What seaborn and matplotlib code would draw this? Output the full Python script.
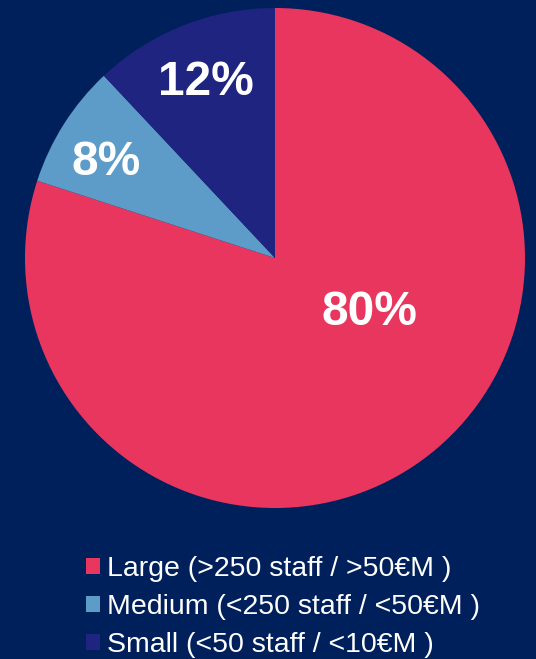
import matplotlib
matplotlib.use("Agg")
import matplotlib.pyplot as plt
import seaborn as sns

categories = ["Large (>250 staff / >50€M )",
              "Medium (<250 staff / <50€M )",
              "Small (<50 staff / <10€M )"]
shares = [80, 8, 12]
colors = ["#e8365e", "#5d9bc9", "#1e2480"]
bg = "#00205c"

sns.set_theme(style="white")
plt.rcParams['font.family'] = ['Liberation Sans', 'DejaVu Sans']

fig = plt.figure(figsize=(5.36, 6.59), dpi=100, facecolor=bg)
ax = fig.add_axes([25 / 536, 151 / 659, 500 / 536, 500 / 659])
ax.set_facecolor(bg)

wedges, texts, autotexts = ax.pie(
    shares, colors=colors, startangle=90, counterclock=False,
    autopct=lambda p: f"{p:.0f}%",
    wedgeprops=dict(linewidth=0),
    textprops=dict(color="white", fontsize=34.5, fontweight="bold"))
ax.set_aspect("equal")
ax.set_xlim(-1, 1)
ax.set_ylim(-1, 1)
ax.axis("off")

# label placement as in the original (baseline anchored)
label_pos = [(0.376, -0.268), (-0.674, 0.332), (-0.276, 0.652)]
for t, pos in zip(autotexts, label_pos):
    t.set_position(pos)
    t.set_va("baseline")
    t.set_ha("center")

handles = [plt.Rectangle((0, 0), 1, 1, color=c, linewidth=0) for c in colors]
leg = fig.legend(handles, categories, loc="upper left",
                 bbox_to_anchor=(86 / 536, 1 - 556 / 659),
                 frameon=False, fontsize=20.5, labelcolor="white",
                 handlelength=0.49, handleheight=0.49, handletextpad=0.25,
                 labelspacing=0.43, borderpad=0, borderaxespad=0)

fig.savefig("out.png", dpi=100, facecolor=bg)
